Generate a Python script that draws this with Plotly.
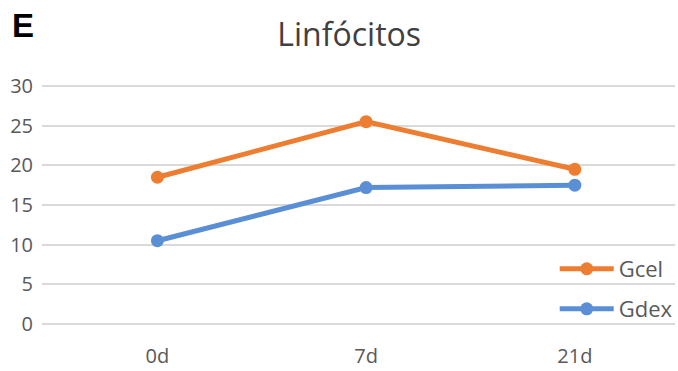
import plotly.graph_objects as go

days = ["0d", "7d", "21d"]
gcel = [18.5, 25.5, 19.5]
gdex = [10.5, 17.2, 17.5]
y_ticks = [0, 5, 10, 15, 20, 25, 30]

ORANGE = "#ED7D31"
BLUE = "#5B8FD5"
TEXT = "#595959"
FONT = "Open Sans"

fig = go.Figure()
fig.add_trace(go.Scatter(
    x=days, y=gcel, name="Gcel", mode="lines+markers",
    line=dict(color=ORANGE, width=5), marker=dict(size=13, color=ORANGE),
    legend="legend",
))
fig.add_trace(go.Scatter(
    x=days, y=gdex, name="Gdex", mode="lines+markers",
    line=dict(color=BLUE, width=5), marker=dict(size=13, color=BLUE),
    legend="legend2",
))

legend_style = dict(
    font=dict(family=FONT, size=22, color=TEXT),
    bgcolor="rgba(0,0,0,0)", xanchor="left", yanchor="middle",
    itemwidth=54,
)

fig.update_layout(
    width=678, height=371,
    margin=dict(l=42, r=0, t=82, b=43),
    plot_bgcolor="white", paper_bgcolor="white",
    font=dict(family=FONT, color=TEXT),
    title=dict(text="Linfócitos", x=0.515, xanchor="center", y=0.905, yanchor="middle",
               font=dict(family=FONT, size=32, color="#404040")),
    showlegend=True,
    legend=dict(x=0.81, y=0.24, **legend_style),
    legend2=dict(x=0.81, y=0.077, **legend_style),
    xaxis=dict(
        type="category", range=[-0.553, 2.48], showgrid=False, showline=False,
        zeroline=False, tickfont=dict(family=FONT, size=20, color=TEXT),
        ticklabelstandoff=14,
    ),
    yaxis=dict(
        range=[-0.5, 30.5], tickvals=y_ticks, showgrid=True, gridcolor="#d9d9d9",
        gridwidth=1.5, zeroline=False, showline=False,
        tickfont=dict(family=FONT, size=20, color=TEXT), ticklabelstandoff=8,
    ),
    annotations=[dict(
        text="<b>E</b>", x=0.0, y=1.0, xref="paper", yref="paper", showarrow=False,
        xanchor="left", yanchor="top", xshift=-32, yshift=77,
        font=dict(family="Liberation Sans", size=33, color="black"),
    )],
)

fig.write_html("out.html")
